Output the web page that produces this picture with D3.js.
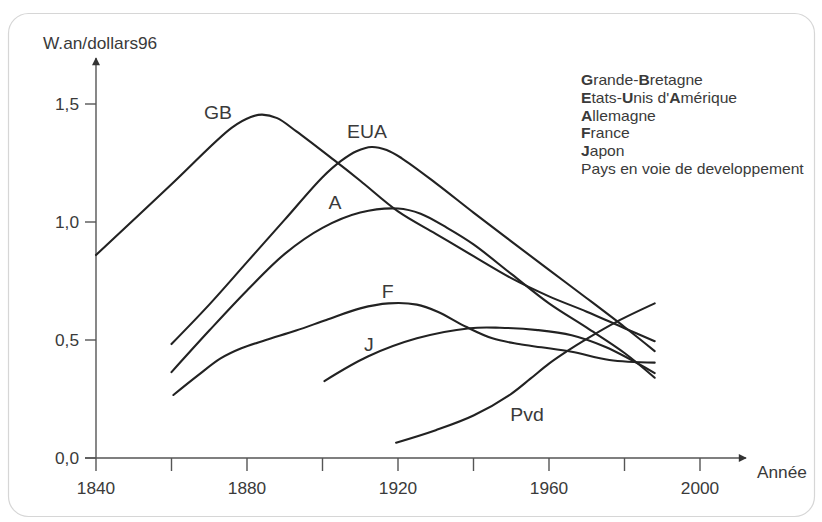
<!DOCTYPE html>
<html>
<head>
<meta charset="utf-8">
<script src="https://cdn.jsdelivr.net/npm/d3@7"></script>
<style>
  html, body { margin: 0; padding: 0; background: #fff; }
  svg { display: block; font-family: "Liberation Sans", Arial, sans-serif; }
</style>
</head>
<body>
<div id="chart"></div>
<script>
// series: [year, W.an/dollars96]
const gbPoints = [[1840,0.86],[1860,1.16],[1876,1.40],[1881,1.445],[1884,1.455],[1888,1.44],[1893,1.385],[1903,1.263],[1910,1.175],[1920,1.045],[1930,0.95],[1940,0.855],[1950,0.762],[1960,0.685],[1970,0.62],[1980,0.55],[1988,0.495]];
const euaPoints = [[1860,0.483],[1870,0.65],[1880,0.83],[1890,1.01],[1900,1.19],[1905,1.26],[1909,1.30],[1913,1.318],[1917,1.305],[1921,1.27],[1930,1.165],[1940,1.04],[1950,0.918],[1960,0.797],[1970,0.677],[1980,0.555],[1988,0.453]];
const aPoints = [[1860,0.364],[1870,0.54],[1880,0.71],[1890,0.865],[1900,0.975],[1910,1.04],[1920,1.057],[1926,1.035],[1933,0.975],[1940,0.905],[1950,0.78],[1960,0.655],[1970,0.552],[1980,0.445],[1988,0.34]];
const fPoints = [[1860.5,0.267],[1867,0.35],[1873,0.422],[1878.5,0.465],[1885,0.50],[1893,0.54],[1901,0.585],[1910,0.634],[1917.5,0.655],[1925,0.65],[1930.5,0.62],[1938,0.556],[1945,0.507],[1952,0.483],[1958,0.469],[1966,0.45],[1976,0.415],[1988,0.404]];
const jPoints = [[1900.5,0.326],[1912,0.43],[1925,0.507],[1939,0.55],[1947,0.552],[1957,0.542],[1966,0.52],[1975,0.47],[1988,0.36]];
const pvdPoints = [[1919.5,0.065],[1930,0.118],[1940,0.18],[1950,0.272],[1955,0.335],[1960,0.40],[1965,0.455],[1970,0.505],[1978,0.578],[1988,0.655]];

const seriesList = [gbPoints, euaPoints, aPoints, fPoints, jPoints, pvdPoints];

// curve labels: [text, year, value]
const curveLabels = [["GB",1872.3,1.462],["EUA",1911.8,1.381],["A",1903.3,1.08],["F",1917.3,0.703],["J",1912.3,0.479],["Pvd",1954.2,0.182]];

const yTicks = [0, 0.5, 1.0, 1.5];
const yTickLabels = ["0,0", "0,5", "1,0", "1,5"];
const xTicks = [1840, 1860, 1880, 1900, 1920, 1940, 1960, 1980, 2000];
const xTickLabels = ["1840", "", "1880", "", "1920", "", "1960", "", "2000"];

// legend lines, [text, bold] pieces
const legendRows = [
  [["G",1],["rande-",0],["B",1],["retagne",0]],
  [["E",1],["tats-",0],["U",1],["nis d'",0],["A",1],["mérique",0]],
  [["A",1],["llemagne",0]],
  [["F",1],["rance",0]],
  [["J",1],["apon",0]],
  [["Pays en voie de developpement",0]]
];

const W = 822, H = 522;
const svg = d3.select('#chart').append('svg')
  .attr('width', W).attr('height', H);

// the source lettering is a little wider than Arial
const STRETCH = 1.08;
function placeText(sel, px, py) {
  return sel.attr('transform', (d, i) =>
    `translate(${typeof px === 'function' ? px(d, i) : px},${typeof py === 'function' ? py(d, i) : py}) scale(${STRETCH},1)`);
}

// rounded frame
svg.append('rect')
  .attr('x', 8.5).attr('y', 13.5)
  .attr('width', 806).attr('height', 503)
  .attr('rx', 20)
  .attr('fill', '#fff')
  .attr('stroke', '#d6d6d6')
  .attr('stroke-width', 1.2);

const x = d3.scaleLinear().domain([1840, 2000]).range([96, 700]);
const y = d3.scaleLinear().domain([0, 1.5]).range([458, 104]);

const axisColor = '#555';
const textColor = '#3a3a3a';

// arrow marker
svg.append('defs').append('marker')
  .attr('id', 'arrow')
  .attr('viewBox', '0 0 10 10')
  .attr('refX', 9).attr('refY', 5)
  .attr('markerWidth', 12).attr('markerHeight', 8)
  .attr('markerUnits', 'userSpaceOnUse')
  .attr('orient', 'auto')
  .append('path')
  .attr('d', 'M0,0 L10,5 L0,10 Z')
  .attr('fill', '#333');

// y axis
svg.append('line')
  .attr('x1', x(1840)).attr('y1', 471)
  .attr('x2', x(1840)).attr('y2', 58)
  .attr('stroke', axisColor).attr('stroke-width', 1.4)
  .attr('marker-end', 'url(#arrow)');

// x axis
svg.append('line')
  .attr('x1', 85).attr('y1', y(0))
  .attr('x2', 746).attr('y2', y(0))
  .attr('stroke', axisColor).attr('stroke-width', 1.4)
  .attr('marker-end', 'url(#arrow)');

// y ticks
svg.selectAll('.ytick').data(yTicks).enter().append('line')
  .attr('x1', 85).attr('x2', x(1840))
  .attr('y1', d => y(d)).attr('y2', d => y(d))
  .attr('stroke', axisColor).attr('stroke-width', 1.4);

placeText(svg.selectAll('.ylab').data(yTicks).enter().append('text'), 79, d => y(d) + 6)
  .attr('text-anchor', 'end')
  .attr('font-size', 16)
  .attr('fill', textColor)
  .text((d, i) => yTickLabels[i]);

// x ticks
svg.selectAll('.xtick').data(xTicks.slice(1)).enter().append('line')
  .attr('x1', d => x(d)).attr('x2', d => x(d))
  .attr('y1', y(0)).attr('y2', 471)
  .attr('stroke', axisColor).attr('stroke-width', 1.4);

placeText(svg.selectAll('.xlab').data(xTicks).enter().append('text'), d => x(d), 494)
  .attr('text-anchor', 'middle')
  .attr('font-size', 16)
  .attr('fill', textColor)
  .text((d, i) => xTickLabels[i]);

// axis titles
placeText(svg.append('text'), 43, 49)
  .attr('font-size', 16).attr('fill', textColor)
  .text('W.an/dollars96');

placeText(svg.append('text'), 757, 478)
  .attr('font-size', 16).attr('fill', textColor)
  .text('Année');

// curves
const line = d3.line()
  .x(d => x(d[0]))
  .y(d => y(d[1]))
  .curve(d3.curveCatmullRom.alpha(0.5));

svg.append('g').selectAll('path')
  .data(seriesList).enter().append('path')
  .attr('d', line)
  .attr('fill', 'none')
  .attr('stroke', '#222')
  .attr('stroke-width', 2.1)
  .attr('stroke-linecap', 'round');

// curve labels
placeText(svg.append('g').selectAll('text')
  .data(curveLabels).enter().append('text'), d => x(d[1]), d => y(d[2]))
  .attr('dy', '0.35em')
  .attr('text-anchor', 'middle')
  .attr('font-size', 18)
  .attr('fill', textColor)
  .text(d => d[0]);

// legend
const legend = svg.append('g');
legendRows.forEach((row, i) => {
  const t = placeText(legend.append('text'), 581, 85 + i * 17.8)
    .attr('font-size', 14.5)
    .attr('fill', textColor);
  row.forEach(p => {
    t.append('tspan')
      .attr('font-weight', p[1] ? 'bold' : 'normal')
      .text(p[0]);
  });
});
</script>
</body>
</html>
